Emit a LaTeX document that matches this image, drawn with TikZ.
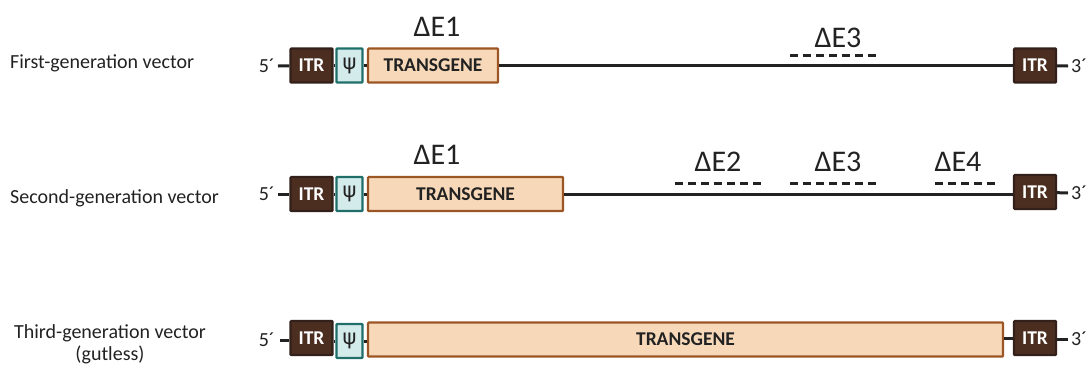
\documentclass[tikz,border=0pt]{standalone}
\usepackage{fontspec}
\setmainfont{Carlito}
\newfontfamily\greekfont{DejaVu Sans}
\definecolor{itrfill}{HTML}{4B2E20}
\definecolor{itrline}{HTML}{33201A}
\definecolor{psifill}{HTML}{D3EBEA}
\definecolor{psiline}{HTML}{1F6E6A}
\definecolor{tgfill}{HTML}{F7D9BA}
\definecolor{tgline}{HTML}{9C5624}
\definecolor{ink}{HTML}{222222}
\begin{document}
\begin{tikzpicture}[x=1pt,y=-1pt,
  itrbox/.style={draw=itrline, fill=itrfill, line width=2.2pt, text=white,
    font=\bfseries\fontsize{19.5}{19.5}\selectfont, minimum width=42pt,
    minimum height=34pt, inner sep=0pt, rounded corners=0.8pt},
  psibox/.style={draw=psiline, fill=psifill, line width=2.4pt, text=ink,
    font=\greekfont\fontsize{21}{21}\selectfont, minimum width=26pt,
    minimum height=34pt, inner sep=0pt, rounded corners=0.8pt},
  tgbox/.style={draw=tgline, fill=tgfill, line width=2.2pt, text=ink,
    font=\bfseries\fontsize{19.5}{19.5}\selectfont, minimum height=34pt,
    inner sep=0pt, rounded corners=0.8pt},
  backbone/.style={line width=3pt, ink},
  deleted/.style={line width=3pt, ink, dash pattern=on 8pt off 5pt},
  dlabel/.style={font=\fontsize{30}{30}\selectfont, text=ink, inner sep=0pt},
  endlabel/.style={font=\fontsize{20}{20}\selectfont, text=ink, inner sep=0pt},
  rowlabel/.style={font=\fontsize{20}{22}\selectfont, text=ink, inner sep=0pt},
]
\useasboundingbox (0,0) rectangle (1092,365);

% ---------- first generation ----------
\node[rowlabel, anchor=base west] (lab1) at (10,68) {First-generation vector};
\node[endlabel, anchor=east] (five1) at (275,66) {5´};
\coordinate (a1) at (278,66);
\node[itrbox] (itrL1) at (311.5,65.5) {ITR};
\node[psibox] (psi1) at (349.5,65.5) {ψ};
\node[tgbox, minimum width=130pt] (tg1) at (433,65.5) {TRANSGENE};
\node[itrbox] (itrR1) at (1035,65.5) {ITR};
\coordinate (b1) at (1068,66);
\node[endlabel, anchor=west] (three1) at (1071,66) {3´};
\draw[backbone] (a1) -- (itrL1);
\draw[backbone] (itrL1) -- (psi1);
\draw[backbone] (psi1) -- (tg1);
\draw[backbone] (tg1) -- (itrR1);
\draw[backbone] (itrR1) -- (b1);
\node[dlabel] (e1a) at (437,27) {ΔE1};
\node[dlabel] (e3a) at (838,38) {ΔE3};
\coordinate (d3a) at (790,55);
\coordinate (d3b) at (878,55);
\draw[deleted] (d3a) -- (d3b);

% ---------- second generation ----------
\node[rowlabel, anchor=base west] (lab2) at (10,203) {Second-generation vector};
\node[endlabel, anchor=east] (five2) at (275,194) {5´};
\coordinate (a2) at (278,194);
\node[itrbox] (itrL2) at (311.5,194) {ITR};
\node[psibox] (psi2) at (349.5,194) {ψ};
\node[tgbox, minimum width=195pt] (tg2) at (465.5,194) {TRANSGENE};
\node[itrbox] (itrR2) at (1035,192) {ITR};
\coordinate (b2) at (1068,193);
\node[endlabel, anchor=west] (three2) at (1071,193) {3´};
\draw[backbone] (a2) -- (itrL2);
\draw[backbone] (itrL2) -- (psi2);
\draw[backbone] (psi2) -- (tg2);
\draw[backbone] (tg2.east) -- (itrR2.west |- tg2.east);
\draw[backbone] (itrR2) -- (b2);
\node[dlabel] (e1b) at (437,155) {ΔE1};
\node[dlabel] (e2b) at (718,162) {ΔE2};
\node[dlabel] (e3b) at (838,162) {ΔE3};
\node[dlabel] (e4b) at (958,162) {ΔE4};
\coordinate (d2a) at (675,183);
\coordinate (d2b) at (763,183);
\coordinate (d3c) at (790,183);
\coordinate (d3d) at (878,183);
\coordinate (d4a) at (935,183);
\coordinate (d4b) at (996,183);
\draw[deleted] (d2a) -- (d2b);
\draw[deleted] (d3c) -- (d3d);
\draw[deleted] (d4a) -- (d4b);

% ---------- third generation ----------
\node[rowlabel, anchor=base, align=center] (lab3) at (110,360)
  {Third-generation vector\\(gutless)};
\node[endlabel, anchor=east] (five3) at (275,340) {5´};
\coordinate (a3) at (280,340);
\node[itrbox] (itrL3) at (311.5,338) {ITR};
\node[psibox] (psi3) at (349.5,341) {ψ};
\node[tgbox, minimum width=635pt] (tg3) at (685.5,339.5) {TRANSGENE};
\node[itrbox] (itrR3) at (1035,338) {ITR};
\coordinate (b3) at (1068,339);
\node[endlabel, anchor=west] (three3) at (1071,339) {3´};
\draw[backbone] (a3) -- (itrL3.west |- a3);
\draw[backbone] (itrL3.east |- psi3.west) -- (psi3.west);
\draw[backbone] (psi3) -- (tg3.west |- psi3.east);
\draw[backbone] (tg3.east |- itrR3.west) -- (itrR3.west);
\draw[backbone] (itrR3.east |- b3) -- (b3);
\end{tikzpicture}
\end{document}
